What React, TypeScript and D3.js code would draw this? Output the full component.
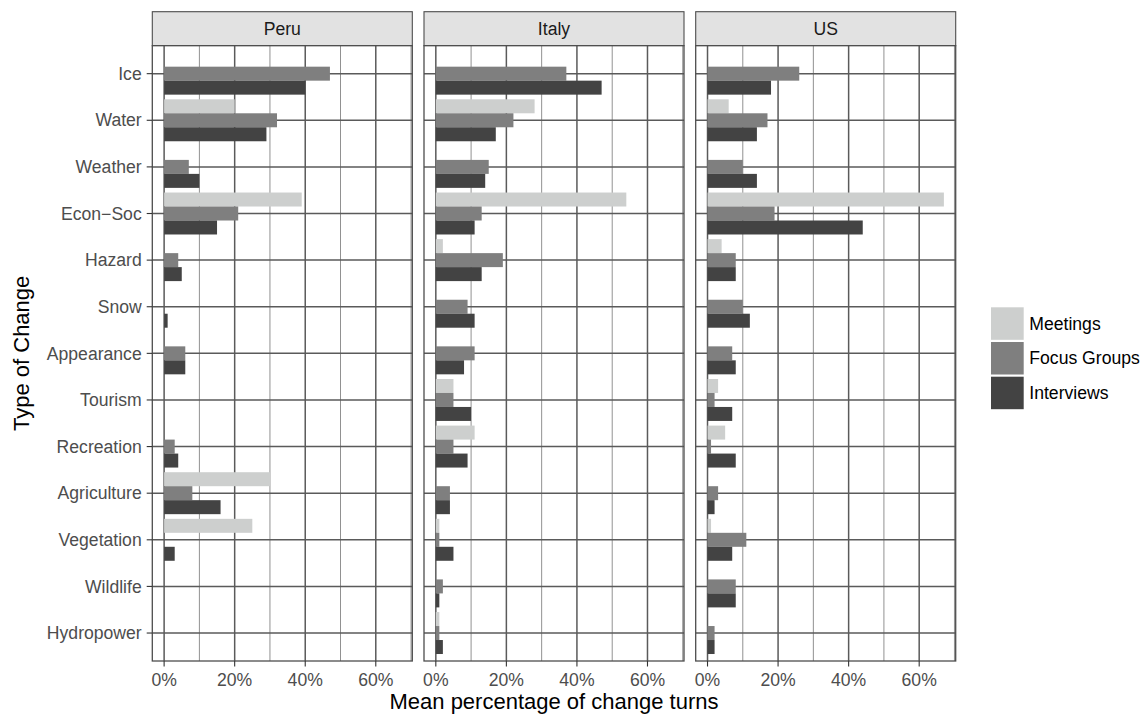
import React from "react";
import * as d3 from "d3";

const categories = ["Ice", "Water", "Weather", "Econ\u2212Soc", "Hazard", "Snow", "Appearance", "Tourism", "Recreation", "Agriculture", "Vegetation", "Wildlife", "Hydropower"];
const countries = ["Peru", "Italy", "US"];
const seriesNames = ["Meetings", "Focus Groups", "Interviews"];
const seriesColors = ["#cdcfce", "#7f7f7f", "#434343"];
const xTicks = [0, 20, 40, 60];
const xMinor = [10, 30, 50, 70];

// values in percent, order follows categories
const peruMeetings = [0, 20, 0, 39, 0, 0, 0, 0, 0, 30, 25, 0, 0];
const peruFocus = [47, 32, 7, 21, 4, 0, 6, 0, 3, 8, 0, 0, 0];
const peruInterviews = [40, 29, 10, 15, 5, 1, 6, 0, 4, 16, 3, 0, 0];

const italyMeetings = [0, 28, 0, 54, 2, 0, 0, 5, 11, 0, 1, 0, 1];
const italyFocus = [37, 22, 15, 13, 19, 9, 11, 5, 5, 4, 1, 2, 1];
const italyInterviews = [47, 17, 14, 11, 13, 11, 8, 10, 9, 4, 5, 1, 2];

const usMeetings = [0, 6, 0, 67, 4, 0, 0, 3, 5, 0, 1, 0, 0];
const usFocus = [26, 17, 10, 19, 8, 10, 7, 2, 1, 3, 11, 8, 2];
const usInterviews = [18, 14, 14, 44, 8, 12, 8, 7, 8, 2, 7, 8, 2];

const panelData = [
  [peruMeetings, peruFocus, peruInterviews],
  [italyMeetings, italyFocus, italyInterviews],
  [usMeetings, usFocus, usInterviews],
];

const FONT = "'Liberation Sans', Arial, Helvetica, sans-serif";

export default function App() {
  const W = 1146, H = 716;
  const panelLefts = [152.3, 424, 695.7];
  const panelW = 260;
  const stripTop = 11.7;
  const panelTop = 45.7;
  const panelBottom = 661;
  const fs = 17.6;
  const titleFs = 22;

  const x = d3.scaleLinear().domain([-3.35, 70.35]).range([0, panelW]);
  const y = d3.scaleBand<string>().domain(categories).range([panelTop, panelBottom]).paddingInner(0).paddingOuter(0.1);
  const step = y.step();
  const sub = d3.scaleBand<string>().domain(seriesNames).range([0.05 * step, 0.95 * step]).padding(0);

  const majorCol = "#5a5a5a";
  const minorCol = "#858585";

  return (
    <svg width={W} height={H} style={{ position: "absolute", left: 0, top: 0, background: "#fff" }} fontFamily={FONT}>
      <rect x={0} y={0} width={W} height={H} fill="#fff" />
      {countries.map((c, pi) => {
        const left = panelLefts[pi];
        return (
          <g key={c} transform={`translate(${left},0)`}>
            {/* strip */}
            <rect x={0} y={stripTop} width={panelW} height={panelTop - stripTop} fill="#e2e2e2" stroke="#4d4d4d" strokeWidth={1.1} />
            <text x={panelW / 2} y={(stripTop + panelTop) / 2} dy="0.35em" textAnchor="middle" fontSize={fs} fill="#1a1a1a">{c}</text>
            {/* panel background */}
            <rect x={0} y={panelTop} width={panelW} height={panelBottom - panelTop} fill="#fff" />
            {/* minor vertical gridlines */}
            {xMinor.map((t) => (
              <line key={"mi" + t} x1={x(t)} x2={x(t)} y1={panelTop} y2={panelBottom} stroke={minorCol} strokeWidth={0.9} />
            ))}
            {/* major vertical gridlines */}
            {xTicks.map((t) => (
              <line key={"ma" + t} x1={x(t)} x2={x(t)} y1={panelTop} y2={panelBottom} stroke={majorCol} strokeWidth={1.5} />
            ))}
            {/* horizontal gridlines */}
            {categories.map((cat) => {
              const cy = (y(cat) as number) + step / 2;
              return <line key={"h" + cat} x1={0} x2={panelW} y1={cy} y2={cy} stroke={majorCol} strokeWidth={1.5} />;
            })}
            {/* bars */}
            {seriesNames.map((s, si) =>
              categories.map((cat, ci) => {
                const v = panelData[pi][si][ci];
                if (!v) return null;
                return (
                  <rect
                    key={s + cat}
                    x={x(0)}
                    y={(y(cat) as number) + (sub(s) as number)}
                    width={x(v) - x(0)}
                    height={sub.bandwidth()}
                    fill={seriesColors[si]}
                  />
                );
              })
            )}
            {/* panel border */}
            <rect x={0} y={panelTop} width={panelW} height={panelBottom - panelTop} fill="none" stroke="#4d4d4d" strokeWidth={1.3} />
            {/* x axis ticks and labels */}
            {xTicks.map((t) => (
              <g key={"xt" + t}>
                <line x1={x(t)} x2={x(t)} y1={panelBottom} y2={panelBottom + 5.5} stroke="#333" strokeWidth={1.1} />
                <text x={x(t)} y={679.5} dy="0.35em" textAnchor="middle" fontSize={fs} fill="#4d4d4d">{t + "%"}</text>
              </g>
            ))}
            {/* y axis on first panel */}
            {pi === 0 &&
              categories.map((cat) => {
                const cy = (y(cat) as number) + step / 2;
                return (
                  <g key={"yt" + cat}>
                    <line x1={-5.6} x2={0} y1={cy} y2={cy} stroke="#333" strokeWidth={1.1} />
                    <text x={-10.6} y={cy} dy="0.35em" textAnchor="end" fontSize={fs} fill="#4d4d4d">{cat}</text>
                  </g>
                );
              })}
          </g>
        );
      })}
      {/* axis titles */}
      <text x={(panelLefts[0] + panelLefts[2] + panelW) / 2} y={701.5} dy="0.35em" textAnchor="middle" fontSize={titleFs} fill="#000">Mean percentage of change turns</text>
      <text transform={`translate(21.7,${(panelTop + panelBottom) / 2}) rotate(-90)`} dy="0.35em" textAnchor="middle" fontSize={titleFs} fill="#000">Type of Change</text>
      {/* legend */}
      {seriesNames.map((s, i) => (
        <g key={"lg" + s} transform={`translate(991,${307.3 + i * 34.7})`}>
          <rect x={0} y={0} width={32.7} height={32.5} fill={seriesColors[i]} />
          <text x={38.3} y={16.2} dy="0.35em" fontSize={fs} fill="#000">{s}</text>
        </g>
      ))}
    </svg>
  );
}
